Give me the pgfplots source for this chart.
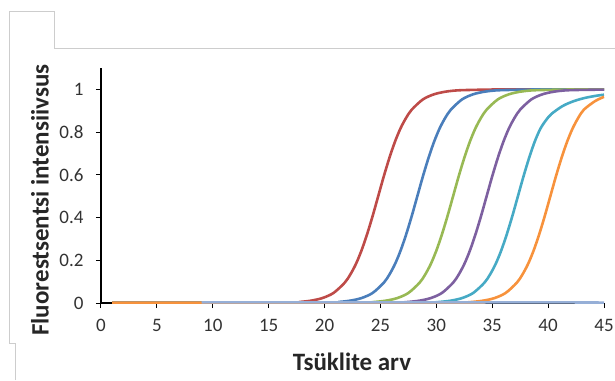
\documentclass[border=0pt]{standalone}
\usepackage{pgfplots}
\pgfplotsset{compat=1.18}
\usepackage{fontspec}
\setmainfont{Carlito}
\definecolor{cRed}{RGB}{190,75,72}
\definecolor{cBlue}{RGB}{74,126,187}
\definecolor{cGreen}{RGB}{152,185,84}
\definecolor{cPurple}{RGB}{125,96,160}
\definecolor{cTeal}{RGB}{70,170,197}
\definecolor{cOrange}{RGB}{247,146,60}
\definecolor{cBase}{RGB}{150,175,215}
\definecolor{cFrame}{RGB}{205,205,205}
\definecolor{cTick}{RGB}{50,50,50}
\begin{document}
\begin{tikzpicture}
\useasboundingbox (-101pt,-77pt) rectangle (514pt,303pt);
\draw[cFrame, line width=1pt] (-85pt,-77pt) -- (-85pt,-40pt) -- (-91pt,-40pt) -- (-91pt,291pt) -- (-46pt,291pt) -- (-46pt,254pt) -- (514pt,254pt);
\begin{axis}[
  at={(0pt,0pt)}, anchor=south west,
  scale only axis, width=503pt, height=235pt,
  xmin=0, xmax=45, ymin=0, ymax=1.1,
  axis lines*=left,
  axis line style={black, line width=1.1pt},
  xtick={0,5,...,45},
  ytick={0,0.2,0.4,0.6,0.8,1},
  tick align=outside,
  major tick length=5pt,
  tick style={black, line width=1pt},
  ticklabel style={font=\fontsize{19}{21}\selectfont, text=cTick},
  /pgf/number format/assume math mode=true,
  yticklabel style={/pgf/number format/fixed, xshift=-9pt},
  xticklabel style={yshift=-8pt},
  clip=false,
  every axis plot/.append style={line width=2.6pt, smooth, no markers},
]
\addplot[cRed] coordinates {
(1,0.002) (16.8,0.002) (17.8,0.005) (18.8,0.011) (19.8,0.023) (20.8,0.047) (21.8,0.095) (22.3,0.133) (22.8,0.182) (23.3,0.245) (23.8,0.321) (24.3,0.407) (24.8,0.5) (25.3,0.593) (25.8,0.679) (26.3,0.755) (26.8,0.818) (27.3,0.867) (27.8,0.905) (28.8,0.953) (29.8,0.977) (30.8,0.989) (31.8,0.995) (32.8,0.997) (34.8,0.999) (36.8,1.0) (45,1.0)};
\addplot[cBlue] coordinates {
(1,0.002) (20.3,0.002) (21.3,0.005) (22.3,0.011) (23.3,0.023) (24.3,0.047) (25.3,0.095) (25.8,0.133) (26.3,0.182) (26.8,0.245) (27.3,0.321) (27.8,0.407) (28.3,0.5) (28.8,0.593) (29.3,0.679) (29.8,0.755) (30.3,0.818) (30.8,0.867) (31.3,0.905) (32.3,0.953) (33.3,0.977) (34.3,0.989) (35.3,0.995) (36.3,0.997) (38.3,0.999) (40.3,1.0) (45,1.0)};
\addplot[cGreen] coordinates {
(1,0.002) (23.5,0.002) (24.5,0.005) (25.5,0.011) (26.5,0.023) (27.5,0.047) (28.5,0.095) (29,0.133) (29.5,0.182) (30,0.245) (30.5,0.321) (31,0.407) (31.5,0.5) (32,0.593) (32.5,0.679) (33,0.755) (33.5,0.818) (34,0.867) (34.5,0.905) (35.5,0.953) (36.5,0.977) (37.5,0.989) (38.5,0.995) (39.5,0.997) (41.5,0.999) (43.5,1.0) (45,1.0)};
\addplot[cPurple] coordinates {
(1,0.002) (26.5,0.002) (27.5,0.005) (28.5,0.011) (29.5,0.023) (30.5,0.047) (31.5,0.095) (32,0.133) (32.5,0.182) (33,0.245) (33.5,0.321) (34,0.407) (34.5,0.5) (35,0.593) (35.5,0.679) (36,0.755) (36.5,0.818) (37,0.867) (37.5,0.905) (38.5,0.953) (39.5,0.977) (40.5,0.989) (41.5,0.995) (42.5,0.997) (45,0.999)};
\addplot[cTeal] coordinates {
(1,0.002) (29.3,0.002) (30.3,0.005) (31.3,0.011) (32.3,0.023) (33.3,0.047) (34.3,0.095) (34.8,0.133) (35.3,0.182) (35.8,0.245) (36.3,0.321) (36.8,0.407) (37.3,0.5) (37.8,0.593) (38.3,0.679) (38.8,0.755) (39.3,0.815) (39.8,0.855) (40.3,0.885) (41.3,0.922) (42.3,0.945) (43.3,0.960) (44.3,0.970) (45,0.975)};
\addplot[cOrange] coordinates {
(1,0.002) (32.2,0.002) (33.2,0.005) (34.2,0.011) (35.2,0.023) (36.2,0.047) (37.2,0.095) (37.7,0.133) (38.2,0.182) (38.7,0.245) (39.2,0.321) (39.7,0.407) (40.2,0.5) (40.7,0.593) (41.2,0.679) (41.7,0.755) (42.2,0.818) (42.7,0.867) (43.2,0.905) (44.2,0.945) (45,0.965)};
\addplot[cBase] coordinates {
(9,0.003) (15,0.003) (20,0.003) (25,0.003) (30,0.003) (35,0.003) (40,0.003) (45,0.002)};
\end{axis}
\node[font=\fontsize{25}{28}\selectfont\bfseries, text=black!85] at (251pt,-59pt) {Tsüklite arv};
\node[font=\fontsize{25}{28}\selectfont\bfseries, text=black!85, rotate=90] at (-61pt,103pt) {Fluorestsentsi intensiivsus};
\end{tikzpicture}
\end{document}
